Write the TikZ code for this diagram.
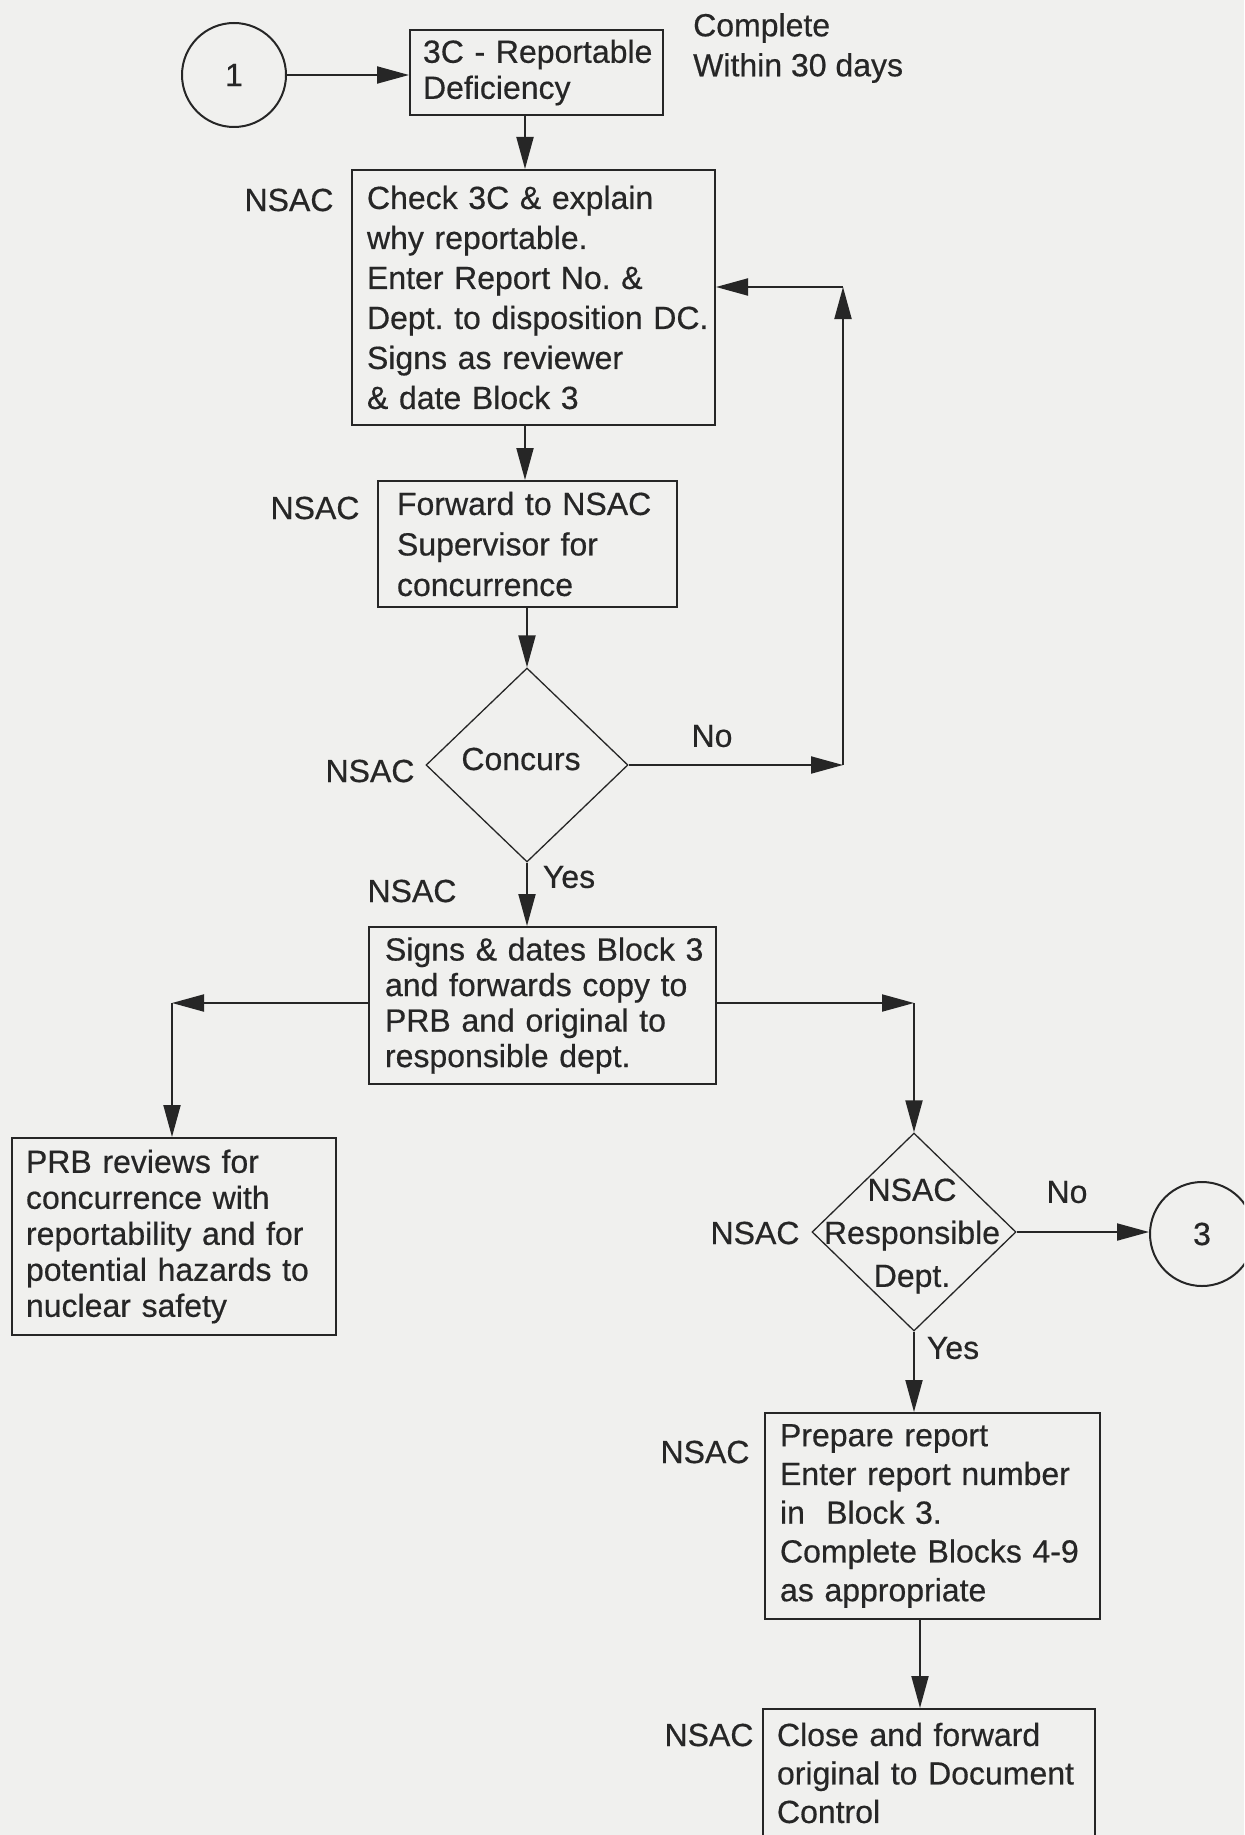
\documentclass[tikz,border=0pt]{standalone}
\usepackage{fontspec}
\setmainfont{Liberation Sans}[FakeBold=0.5]
\usetikzlibrary{shapes.geometric,arrows.meta}
\definecolor{bg}{RGB}{240,240,238}
\definecolor{ink}{RGB}{38,38,38}
\frenchspacing
\begin{document}
\begin{tikzpicture}[x=1pt,y=-1pt,
  every node/.style={text=ink, font=\fontsize{32}{40}\selectfont},
  box/.style={draw=ink, line width=2pt, rectangle, inner ysep=0pt, align=left},
  decision/.style={draw=ink, line width=1.3pt, diamond, inner sep=0pt},
  conn/.style={draw=ink, line width=2pt, circle, inner sep=0pt, minimum size=104pt},
  arr/.style={draw=ink, line width=2pt, -{Triangle[length=32pt,width=17pt]}},
  lbl/.style={inner sep=0pt}
]
\useasboundingbox (0,0) rectangle (1244,1835);
\fill[bg] (0,0) rectangle (1244,1835);
\clip (0,0) rectangle (1244,1835);

% connectors (circles)
\node[conn] (circ1) at (234,75) {1};
\node[conn] (circ3) at (1202,1234) {3};

% boxes
\node[box, minimum width=253pt, minimum height=85pt, inner xsep=13pt, text width=227pt,
  font=\fontsize{32}{36}\selectfont] (box0) at (536.5,72.5)
  {\mbox{3C - Reportable}\\\mbox{Deficiency}};
\node[lbl, anchor=west, align=left] (compl) at (693,48) {Complete\\Within 30 days};

\node[box, minimum width=363pt, minimum height=255pt, inner xsep=15pt, text width=333pt,
  font=\fontsize{32}{40}\selectfont] (box1) at (533.5,297.5)
  {\mbox{Check 3C \& explain}\\\mbox{why reportable.}\\\mbox{Enter Report No. \&}\\\mbox{Dept. to disposition DC.}\\\mbox{Signs as reviewer}\\\mbox{\& date Block 3}};

\node[box, minimum width=299pt, minimum height=126pt, inner xsep=19pt, text width=261pt,
  font=\fontsize{32}{40.5}\selectfont] (box2) at (527.5,544)
  {\mbox{Forward to NSAC}\\\mbox{Supervisor for}\\\mbox{concurrence}};

\node[decision, minimum width=202pt, minimum height=194pt] (d1) at (527,765) {};
\node[lbl] (d1t) at (521,759) {Concurs};

\node[box, minimum width=347pt, minimum height=157pt, inner xsep=16pt, text width=315pt,
  font=\fontsize{32}{35.5}\selectfont] (box3) at (542.5,1005.5)
  {\mbox{Signs \& dates Block 3}\\\mbox{and forwards copy to}\\\mbox{PRB and original to}\\\mbox{responsible dept.}};

\node[box, minimum width=324pt, minimum height=197pt, inner xsep=14pt, text width=296pt,
  font=\fontsize{32}{36}\selectfont] (prb) at (174,1236.5)
  {\mbox{PRB reviews for}\\\mbox{concurrence with}\\\mbox{reportability and for}\\\mbox{potential hazards to}\\\mbox{nuclear safety}};

\node[decision, minimum width=204pt, minimum height=198pt] (d2) at (914,1232) {};
\node[lbl, align=center, font=\fontsize{32}{43}\selectfont] (d2t) at (912,1236)
  {NSAC\\Responsible\\Dept.};

\node[box, minimum width=335pt, minimum height=206pt, inner xsep=15pt, text width=305pt,
  font=\fontsize{32}{38.75}\selectfont] (box4) at (932.5,1516)
  {\mbox{Prepare report}\\\mbox{Enter report number}\\\mbox{in\ \ Block 3.}\\\mbox{Complete Blocks 4-9}\\\mbox{as appropriate}};

\node[box, minimum width=332pt, minimum height=128pt, inner xsep=14pt, text width=304pt,
  font=\fontsize{32}{38.5}\selectfont] (box5) at (929,1773)
  {\mbox{Close and forward}\\\mbox{original to Document}\\\mbox{Control}};

% role labels
\node[lbl] (n1) at (289,200) {NSAC};
\node[lbl] (n2) at (315,508) {NSAC};
\node[lbl] (n3) at (370,771) {NSAC};
\node[lbl] (n4) at (412,891) {NSAC};
\node[lbl] (n5) at (755,1233) {NSAC};
\node[lbl] (n6) at (705,1452) {NSAC};
\node[lbl] (n7) at (709,1735) {NSAC};

% branch labels
\node[lbl] (no1) at (712,736) {No};
\node[lbl] (yes1) at (569,877) {Yes};
\node[lbl] (no2) at (1067,1192) {No};
\node[lbl] (yes2) at (953,1348) {Yes};

% routing coordinates
\coordinate (colA) at (525,0);
\coordinate (cNo) at (843,765);
\coordinate (cTop) at (843,287);
\coordinate (cL) at (172,1003);
\coordinate (cR) at (914,1003);
\coordinate (colC) at (920,0);

% connectors
\draw[arr] (circ1.east) -- (circ1.east -| box0.west);
\draw[arr] (box0.south -| colA) -- (box1.north -| colA);
\draw[arr] (box1.south -| colA) -- (box2.north -| colA);
\draw[arr] (box2.south -| d1.north) -- (d1.north);
\draw[arr] (d1.south) -- (d1.south |- box3.north);
\draw[arr] (d1.east) -- (cNo);
\draw[arr] (cNo) -- (cTop);
\draw[arr] (cTop) -- (cTop -| box1.east);
\draw[arr] (box3.west |- cL) -- (cL);
\draw[arr] (cL) -- (cL |- prb.north);
\draw[arr] (box3.east |- cR) -- (cR);
\draw[arr] (cR) -- (d2.north);
\draw[arr] (d2.east) -- (d2.east -| circ3.west);
\draw[arr] (d2.south) -- (d2.south |- box4.north);
\draw[arr] (box4.south -| colC) -- (box5.north -| colC);
\end{tikzpicture}
\end{document}
